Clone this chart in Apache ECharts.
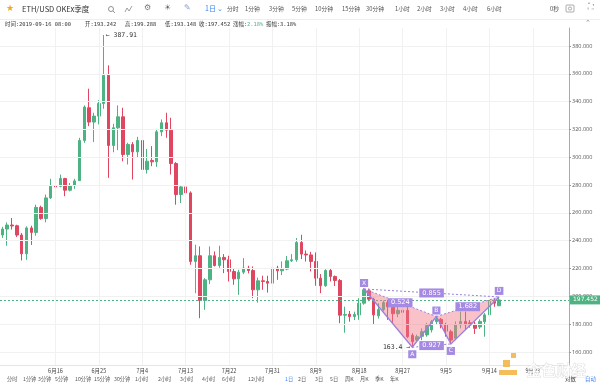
<!DOCTYPE html>
<html><head><meta charset="utf-8">
<script src="https://cdn.jsdelivr.net/npm/echarts@6/dist/echarts.min.js"></script>
<style>html,body{margin:0;padding:0;background:#fff}#c{width:600px;height:386px}</style>
</head><body><div id="c"></div>
<script>
// ---------- data ----------
const startDate = '2019-06-05';
const categoryCount = 118;           // 2019-06-05 .. 2019-09-30
const labelDates = ['2019-06-16','2019-06-25','2019-07-04','2019-07-13','2019-07-22','2019-07-31','2019-08-09','2019-08-18','2019-08-27','2019-09-05','2019-09-14','2019-09-23'];
const yTicks = [160,180,200,220,240,260,280,300,320,340,360,380];

const opens = [244.1,248.4,251.3,250.8,244.1,230.6,249.2,246.0,264.0,255.9,270.8,279.6,279.1,284.7,276.3,279.6,283.2,312.1,335.6,325.3,329.6,338.7,358.9,308.5,321.2,329.1,
 302.0,309.2,303.9,312.1,291.2,297.7,296.7,318.3,324.8,319.5,295.5,273.2,278.7,274.4,225.1,229.2,197.0,211.9,229.2,222.2,228.0,226.3,217.9,212.6,217.4,220.3,218.6,204.7,211.2,210.7,209.5,
 220.3,218.4,219.6,225.6,226.3,238.8,230.4,229.8,225.1,213.1,207.6,218.6,214.3,211.4,186.5,187.2,185.5,186.6,195.1,204.0,198.0,186.0,190.5,195.5,192.6,187.5,190.0,190.0,172.0,168.6,171.3,
 172.3,175.9,181.8,183.5,179.5,174.6,169.9,179.5,182.0,181.0,180.0,178.0,181.8,186.7,196.3,193.242];
const closes = [248.4,251.3,250.6,244.1,230.6,249.2,246.0,264.0,255.9,270.8,279.1,278.7,284.7,276.3,279.6,283.0,312.1,336.1,325.3,329.6,338.7,358.9,308.5,321.2,329.1,302.0,
 309.2,303.9,312.1,291.2,297.2,296.7,318.3,324.8,319.5,295.5,273.2,278.7,274.4,225.1,229.2,197.0,211.9,229.2,222.2,228.0,226.3,217.9,212.6,217.4,220.3,218.6,204.7,211.2,210.7,209.5,220.3,
 218.4,219.6,225.6,226.3,238.8,230.4,229.8,225.1,213.1,207.6,218.6,214.3,211.4,186.5,187.0,185.5,187.0,195.1,204.7,198.0,186.7,190.5,195.5,192.6,187.5,190.0,188.5,171.0,167.5,171.0,174.6,
 179.0,181.8,183.5,179.5,175.0,168.6,179.5,182.0,179.5,179.5,177.0,182.0,186.7,196.3,195.1,197.452];
const lows = [242.0,236.4,248.0,242.7,225.8,226.3,237.0,243.6,255.1,253.2,270.0,273.2,278.4,272.0,275.5,277.3,283.0,310.4,322.4,310.9,323.6,334.9,285.2,303.6,305.1,297.1,
 294.8,284.0,299.6,287.6,288.3,293.6,293.1,315.2,314.0,287.6,265.9,267.1,267.1,222.7,202.3,184.3,190.3,208.8,221.5,220.5,216.7,210.7,208.3,201.1,216.0,216.5,198.7,195.5,204.7,202.7,208.5,
 211.9,215.3,218.8,224.7,224.9,226.8,225.0,217.9,207.6,202.3,206.9,210.7,207.5,180.7,173.9,181.8,183.0,183.1,194.0,196.5,180.2,184.0,189.5,183.1,180.5,185.0,186.0,170.0,163.4,167.5,168.5,
 171.0,174.0,179.5,177.0,171.0,165.8,168.5,177.0,176.0,177.5,173.0,176.5,171.0,185.5,192.5,193.148];
const highs = [250.0,253.2,256.3,251.5,245.5,250.3,250.8,265.9,265.2,273.2,284.5,291.2,287.6,285.2,281.5,284.5,314.0,337.3,349.3,332.0,341.1,387.91,366.1,324.1,337.3,335.6,
 310.4,310.9,314.7,314.0,306.0,308.0,320.4,327.2,332.0,328.4,296.5,279.5,282.0,275.5,237.1,235.9,213.1,235.9,232.3,236.4,230.4,229.2,220.3,219.1,227.5,222.0,221.5,213.5,214.8,214.8,222.0,
 222.0,225.1,229.0,230.4,241.9,244.3,233.0,232.0,231.6,216.0,219.5,220.0,215.0,212.5,192.6,189.5,189.0,198.7,205.9,205.5,199.0,195.0,197.0,197.5,193.5,192.5,192.0,193.0,173.5,172.5,177.0,
 181.0,183.0,186.0,184.5,181.0,176.0,182.0,189.0,189.0,183.0,182.0,183.5,188.0,197.5,198.5,199.288];

const highLabel = {date:'2019-06-26', price:387.91, text:'← 387.91'};
const lowLabel  = {date:'2019-08-29', price:163.4,  text:'163.4 →'};
const lastPrice = 197.452;

const patternNames  = ['X','A','B','C','D'];
const patternDates  = ['2019-08-19','2019-08-29','2019-09-03','2019-09-06','2019-09-16'];
const patternPrices = [205.3,163.4,185.5,165.8,199.6];
const ratioPairs  = [[0,2],[1,3],[2,4],[0,4]];
const ratioTexts  = ['0.524','0.927','1.682','0.855'];

const headerTabs = ['分时','1分钟','3分钟','5分钟','10分钟','15分钟','30分钟','1小时','2小时','3小时','4小时','6小时'];
const footerTabs = ['分时','1分钟','3分钟','5分钟','10分钟','15分钟','30分钟','1小时','2小时','3小时','4小时','6小时','12小时','1日','2日','3日','5日','周K','月K','季K','年K'];
const infoItems = ['时间:2019-09-16 08:00','开:193.242','高:199.288','低:193.148','收:197.452','涨幅:','2.18%','振幅:3.18%'];

// ---------- build ----------
function pad(n){return n<10?'0'+n:''+n;}
const categories = [];
{
  const d0 = new Date(startDate+'T00:00:00Z');
  for(let i=0;i<categoryCount;i++){
    const d = new Date(d0.getTime()+i*86400000);
    categories.push(d.getUTCFullYear()+'-'+pad(d.getUTCMonth()+1)+'-'+pad(d.getUTCDate()));
  }
}
const candleData = opens.map((o,i)=>[o,closes[i],lows[i],highs[i]]);
const UP='#4fb283', DOWN='#e04660', PURPLE='#9b7fe0';

const chart = echarts.init(document.getElementById('c'), null, {renderer:'canvas'});

const headerTabX = [227,245,269,292,315,342,366,395,417,440,463,487];
const footerTabX = [7,23,38,55,75,94,114,135,158,180,202,222,248,285,298,315,330,345,360,375,390];
const infoX = [5,85,125,165,199,233,247,266];
const CJK = '"Noto Sans CJK SC", sans-serif';

const graphics = [];
graphics.push({type:'line',shape:{x1:0,y1:19.5,x2:600,y2:19.5},style:{stroke:'#eeeeee',lineWidth:1},z:100});
graphics.push({type:'text',left:6,top:4,style:{text:'★',fill:'#f5a623',font:'9px DejaVu Sans'},z:100});
graphics.push({type:'text',left:22,top:5,style:{text:'ETH/USD OKEx季度',fill:'#333',font:'7.5px '+CJK},z:100});
graphics.push({type:'circle',shape:{cx:111,cy:9,r:2.5},style:{stroke:'#777',fill:'none',lineWidth:0.8},z:100});
graphics.push({type:'line',shape:{x1:113,y1:11,x2:115,y2:13},style:{stroke:'#777',lineWidth:0.8},z:100});
graphics.push({type:'polyline',shape:{points:[[125,12],[127,8],[129,11],[132,6]]},style:{stroke:'#888',fill:'none',lineWidth:0.8},z:100});
graphics.push({type:'text',left:144,top:4,style:{text:'⚙',fill:'#777',font:'8px DejaVu Sans'},z:100});
graphics.push({type:'text',left:164,top:4,style:{text:'☀',fill:'#666',font:'8px DejaVu Sans'},z:100});
graphics.push({type:'text',left:184,top:4,style:{text:'✎',fill:'#8aa0d0',font:'8px DejaVu Sans'},z:100});
graphics.push({type:'text',left:205,top:5,style:{text:'1日 ⌄',fill:'#3b82f6',font:'7px '+CJK},z:100});
headerTabs.forEach((t,i)=>graphics.push({type:'text',left:headerTabX[i],top:5.5,style:{text:t,fill:'#555',font:'5.8px '+CJK},z:100}));
graphics.push({type:'text',left:550,top:5.5,style:{text:'0秒',fill:'#555',font:'5.8px '+CJK},z:100});
graphics.push({type:'rect',shape:{x:566,y:5,width:8,height:7,r:1},style:{stroke:'#888',fill:'none',lineWidth:0.7},z:100});
graphics.push({type:'circle',shape:{cx:570,cy:8.5,r:1.6},style:{stroke:'#888',fill:'none',lineWidth:0.7},z:100});
graphics.push({type:'text',left:588,top:3,style:{text:'⛶',fill:'#888',font:'8px DejaVu Sans'},z:100});
graphics.push({type:'text',left:585,top:20,style:{text:'⌃',fill:'#888',font:'7px DejaVu Sans'},z:100});
infoItems.forEach((t,i)=>graphics.push({type:'text',left:infoX[i],top:21.5,style:{text:t,fill:i===6?UP:'#333',font:'5.4px "DejaVu Sans Mono", "Noto Sans CJK SC", monospace'},z:100}));
footerTabs.forEach((t,i)=>graphics.push({type:'text',left:footerTabX[i],top:376.5,style:{text:t,fill:t==='1日'?'#3b82f6':'#555',font:'5.2px '+CJK},z:100}));
graphics.push({type:'text',left:565,top:376.5,style:{text:'对数',fill:'#333',font:'5.4px '+CJK},z:100});
graphics.push({type:'text',left:585,top:376.5,style:{text:'自动',fill:'#3b82f6',font:'5.4px '+CJK},z:100});
// watermark
graphics.push({type:'rect',shape:{x:503,y:360,width:7,height:7},style:{fill:'#f3b23c',opacity:0.85},z:101});
graphics.push({type:'rect',shape:{x:511,y:353,width:5,height:5},style:{fill:'#f3b23c',opacity:0.85},z:101});
graphics.push({type:'rect',shape:{x:499,y:370,width:18,height:5},style:{fill:'#f3b23c',opacity:0.85},z:101});
graphics.push({type:'text',left:526,top:362,style:{text:'金色财经',fill:'rgba(255,255,255,0.8)',stroke:'rgba(160,160,160,0.5)',lineWidth:0.6,font:'bold 15px '+CJK},z:101});

function patternRender(params, api){
  const pts = patternDates.map((d,i)=>api.coord([categories.indexOf(d), patternPrices[i]]));
  const children = [];
  children.push({type:'polygon',shape:{points:[pts[0],pts[1],pts[2]]},style:{fill:'rgba(242,120,135,0.45)'}});
  children.push({type:'polygon',shape:{points:[pts[2],pts[3],pts[4]]},style:{fill:'rgba(242,120,135,0.45)'}});
  children.push({type:'polyline',shape:{points:pts},style:{stroke:PURPLE,fill:null,lineWidth:1.3}});
  ratioPairs.forEach((p,i)=>{
    const a=pts[p[0]], b=pts[p[1]];
    children.push({type:'line',shape:{x1:a[0],y1:a[1],x2:b[0],y2:b[1]},style:{stroke:PURPLE,lineWidth:1,lineDash:[2,2]}});
    children.push({type:'text',x:(a[0]+b[0])/2,y:(a[1]+b[1])/2,style:{text:ratioTexts[i],fill:'#fff',backgroundColor:'#a58ae3',padding:[1,3],font:'6.5px DejaVu Sans',align:'center',verticalAlign:'middle'},z2:10});
  });
  const above=[true,false,true,false,true];
  pts.forEach((p,i)=>{
    children.push({type:'text',x:p[0],y:above[i]?p[1]-6:p[1]+7,style:{text:patternNames[i],fill:'#fff',backgroundColor:'#a58ae3',padding:[1,2],font:'6px DejaVu Sans',align:'center',verticalAlign:'middle'},z2:10});
  });
  const h = api.coord([categories.indexOf(highLabel.date), highLabel.price]);
  children.push({type:'text',x:h[0]+2,y:h[1],style:{text:highLabel.text,fill:'#333',font:'6.5px DejaVu Sans Mono',align:'left',verticalAlign:'middle'}});
  const l = api.coord([categories.indexOf(lowLabel.date), lowLabel.price]);
  children.push({type:'text',x:l[0]-2,y:l[1],style:{text:lowLabel.text,fill:'#333',font:'6.5px DejaVu Sans Mono',align:'right',verticalAlign:'middle'}});
  return {type:'group',children};
}

const gridTop=28, gridBottomY=365;
const pxPer = (352-46)/220;
const yMax = 380 + (46-gridTop)/pxPer;
const yMin = 160 - (gridBottomY-352)/pxPer;

const option = {
  animation:false,
  backgroundColor:'#fff',
  grid:{left:0,right:31,top:gridTop,bottom:386-gridBottomY,containLabel:false},
  xAxis:{type:'category',data:categories,boundaryGap:true,
    axisLine:{show:true,lineStyle:{color:'#e6e6e6'}},axisTick:{show:false},
    axisLabel:{interval:(i,v)=>labelDates.indexOf(v)>=0,formatter:v=>{const p=v.split('-');return (+p[1])+'月'+(+p[2]);},
      color:'#444',fontSize:5.5,margin:3,fontFamily:CJK},
    splitLine:{show:false}},
  yAxis:{type:'value',position:'right',min:yMin,max:yMax,scale:true,
    axisLine:{show:true,lineStyle:{color:'#aaaaaa'}},
    axisTick:{show:true,length:2,customValues:yTicks,lineStyle:{color:'#999'}},
    axisLabel:{customValues:yTicks,formatter:v=>v.toFixed(3),color:'#555',fontSize:5.5,margin:3,fontFamily:'"Open Sans", sans-serif'},
    splitLine:{show:false}},
  graphic:graphics,
  series:[
    {type:'line',data:[],silent:true,z:0,
      markLine:{silent:true,symbol:['none','none'],label:{show:false},animation:false,
        lineStyle:{color:'#f1f1f1',type:'solid',width:1},
        data:yTicks.map(v=>({yAxis:v})).concat(labelDates.map(d=>({xAxis:d})))}},
    {type:'candlestick',data:candleData,barWidth:3,z:2,
      itemStyle:{color:UP,color0:DOWN,borderColor:UP,borderColor0:DOWN,borderWidth:1},
      markLine:{silent:true,symbol:['none','none'],animation:false,
        lineStyle:{color:UP,type:[2,2],width:1},
        label:{show:true,position:'end',distance:1,formatter:()=>lastPrice.toFixed(3),color:'#fff',backgroundColor:UP,padding:[2,3,1,3],fontSize:6,fontFamily:'DejaVu Sans'},
        data:[{yAxis:lastPrice}]}},
    {type:'custom',renderItem:patternRender,data:[[0,0]],z:5,silent:true,clip:false}
  ]
};
chart.setOption(option);
</script></body></html>
